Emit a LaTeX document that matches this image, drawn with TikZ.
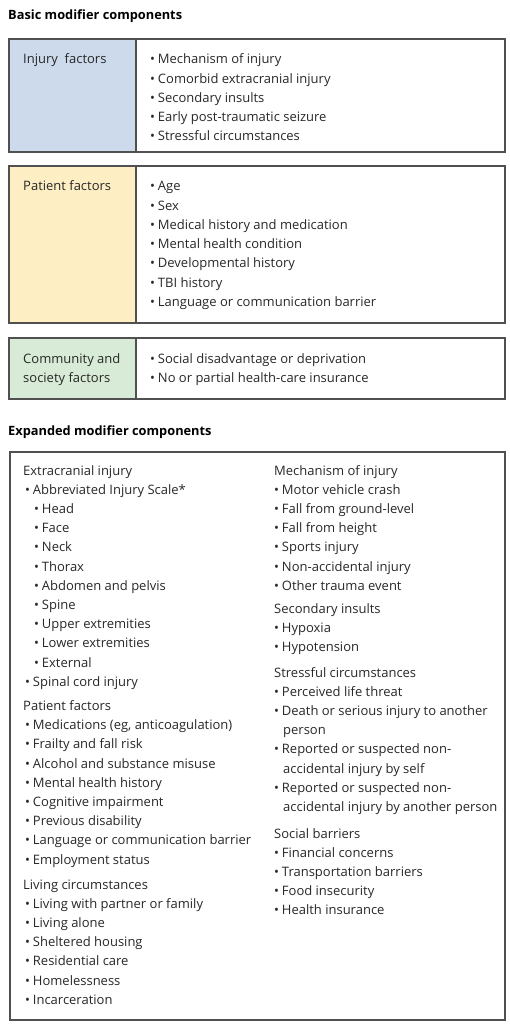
\documentclass[tikz,border=0pt]{standalone}
\usepackage{fontspec}
\setmainfont{Open Sans}
\usepackage{xcolor}
\usepackage{tikz}
\definecolor{figline}{RGB}{80,80,80}
\definecolor{figtext}{RGB}{40,40,40}
\definecolor{injfill}{RGB}{205,218,236}
\definecolor{patfill}{RGB}{253,238,196}
\definecolor{comfill}{RGB}{216,235,214}
\tikzset{
  frm/.style  ={draw=figline, line width=1.1pt},
  hd/.style   ={font=\fontsize{12.8}{15}\selectfont\bfseries, text=black, anchor=base west, inner sep=0pt},
  lab/.style  ={font=\fontsize{13}{15}\selectfont, text=figtext, anchor=base west, inner sep=0pt},
}
\newcommand{\bul}{\textbullet\hspace{0.22em}}

\begin{document}
\begin{tikzpicture}[x=1pt,y=-1pt]
  \useasboundingbox[fill=white] (0,0) rectangle (509,1024);
  % basic modifier components
  \node[hd] (basic) at (8,20) {Basic modifier components};
  \fill[injfill] (9,39) rectangle (136,152);
  \draw[frm] (9,39) rectangle (505,152);
  \draw[frm] (136,39) -- (136,152);
  \node[lab] (injlab) at (23,64) {Injury\ \ factors};
  \node[lab] (inj1) at (150,64) {\bul Mechanism of injury};
  \node[lab] (inj2) at (150,83.2) {\bul Comorbid extracranial injury};
  \node[lab] (inj3) at (150,102.4) {\bul Secondary insults};
  \node[lab] (inj4) at (150,121.6) {\bul Early post-traumatic seizure};
  \node[lab] (inj5) at (150,140.8) {\bul Stressful circumstances};

  \fill[patfill] (9,166) rectangle (136,323);
  \draw[frm] (9,166) rectangle (505,323);
  \draw[frm] (136,166) -- (136,323);
  \node[lab] (patlab) at (23,191) {Patient factors};
  \node[lab] (pat1) at (150,191) {\bul Age};
  \node[lab] (pat2) at (150,210.2) {\bul Sex};
  \node[lab] (pat3) at (150,229.4) {\bul Medical history and medication};
  \node[lab] (pat4) at (150,248.6) {\bul Mental health condition};
  \node[lab] (pat5) at (150,267.8) {\bul Developmental history};
  \node[lab] (pat6) at (150,287) {\bul TBI history};
  \node[lab] (pat7) at (150,306.2) {\bul Language or communication barrier};

  \fill[comfill] (9,338) rectangle (136,399);
  \draw[frm] (9,338) rectangle (505,399);
  \draw[frm] (136,338) -- (136,399);
  \node[lab] (comlab1) at (23,363) {Community and};
  \node[lab] (comlab2) at (23,382.2) {society factors};
  \node[lab] (com1) at (150,363) {\bul Social disadvantage or deprivation};
  \node[lab] (com2) at (150,382.2) {\bul No or partial health-care insurance};

  % expanded modifier components
  \node[hd] (expanded) at (8,435) {Expanded modifier components};
  \draw[frm] (10,452) rectangle (505,1020);
  % left column
  \node[lab] (ext) at (23,475) {Extracranial injury};
  \node[lab] (ext1) at (25,494.2) {\bul Abbreviated Injury Scale*};
  \node[lab] (ais1) at (34,513.4) {\bul Head};
  \node[lab] (ais2) at (34,532.6) {\bul Face};
  \node[lab] (ais3) at (34,551.8) {\bul Neck};
  \node[lab] (ais4) at (34,571) {\bul Thorax};
  \node[lab] (ais5) at (34,590.2) {\bul Abdomen and pelvis};
  \node[lab] (ais6) at (34,609.4) {\bul Spine};
  \node[lab] (ais7) at (34,628.6) {\bul Upper extremities};
  \node[lab] (ais8) at (34,647.8) {\bul Lower extremities};
  \node[lab] (ais9) at (34,667) {\bul External};
  \node[lab] (ext2) at (25,686.2) {\bul Spinal cord injury};
  \node[lab] (pf) at (23,710.5) {Patient factors};
  \node[lab] (pf1) at (25,729.7) {\bul Medications (eg, anticoagulation)};
  \node[lab] (pf2) at (25,748.9) {\bul Frailty and fall risk};
  \node[lab] (pf3) at (25,768.1) {\bul Alcohol and substance misuse};
  \node[lab] (pf4) at (25,787.3) {\bul Mental health history};
  \node[lab] (pf5) at (25,806.5) {\bul Cognitive impairment};
  \node[lab] (pf6) at (25,825.7) {\bul Previous disability};
  \node[lab] (pf7) at (25,844.9) {\bul Language or communication barrier};
  \node[lab] (pf8) at (25,864.1) {\bul Employment status};
  \node[lab] (lc) at (23,889) {Living circumstances};
  \node[lab] (lc1) at (25,908.2) {\bul Living with partner or family};
  \node[lab] (lc2) at (25,927.4) {\bul Living alone};
  \node[lab] (lc3) at (25,946.6) {\bul Sheltered housing};
  \node[lab] (lc4) at (25,965.8) {\bul Residential care};
  \node[lab] (lc5) at (25,985) {\bul Homelessness};
  \node[lab] (lc6) at (25,1004.2) {\bul Incarceration};
  % right column
  \node[lab] (moi) at (274,475) {Mechanism of injury};
  \node[lab] (moi1) at (274,494.2) {\bul Motor vehicle crash};
  \node[lab] (moi2) at (274,513.4) {\bul Fall from ground-level};
  \node[lab] (moi3) at (274,532.6) {\bul Fall from height};
  \node[lab] (moi4) at (274,551.8) {\bul Sports injury};
  \node[lab] (moi5) at (274,571) {\bul Non-accidental injury};
  \node[lab] (moi6) at (274,590.2) {\bul Other trauma event};
  \node[lab] (si) at (274,613.5) {Secondary insults};
  \node[lab] (si1) at (274,632.7) {\bul Hypoxia};
  \node[lab] (si2) at (274,651.9) {\bul Hypotension};
  \node[lab] (sc) at (274,677) {Stressful circumstances};
  \node[lab] (sc1) at (274,696.2) {\bul Perceived life threat};
  \node[lab] (sc2) at (274,715.4) {\bul Death or serious injury to another};
  \node[lab] (sc2b) at (283,734.6) {person};
  \node[lab] (sc3) at (274,753.8) {\bul Reported or suspected non-};
  \node[lab] (sc3b) at (283,773) {accidental injury by self};
  \node[lab] (sc4) at (274,792.2) {\bul Reported or suspected non-};
  \node[lab] (sc4b) at (283,811.4) {accidental injury by another person};
  \node[lab] (sb) at (274,838) {Social barriers};
  \node[lab] (sb1) at (274,857.2) {\bul Financial concerns};
  \node[lab] (sb2) at (274,876.4) {\bul Transportation barriers};
  \node[lab] (sb3) at (274,895.6) {\bul Food insecurity};
  \node[lab] (sb4) at (274,914.8) {\bul Health insurance};
\end{tikzpicture}
\end{document}
